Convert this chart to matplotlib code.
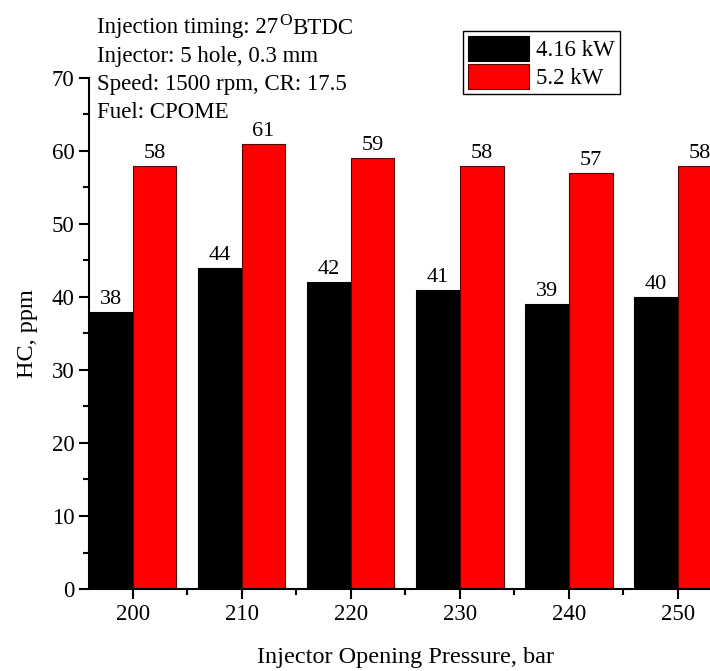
import matplotlib
matplotlib.use("Agg")
import matplotlib.pyplot as plt
import numpy as np

plt.rcParams['font.family'] = ['Liberation Serif', 'DejaVu Serif']

pressures = [200, 210, 220, 230, 240, 250]
series_names = ['4.16 kW', '5.2 kW']
hc_416 = [38, 44, 42, 41, 39, 40]
hc_52 = [58, 61, 59, 58, 57, 58]
info_first = ('Injection timing: 27', 'O', 'BTDC')
info_lines = ['Injector: 5 hole, 0.3 mm', 'Speed: 1500 rpm, CR: 17.5', 'Fuel: CPOME']

fig = plt.figure(figsize=(7.10, 6.71), dpi=100)
ax = fig.add_axes([0.1254, 0.1222, 0.891, 0.7616])

x = np.array(pressures, dtype=float)
w = 4
b1 = ax.bar(x - w/2, hc_416, width=w, color='black', edgecolor='black', linewidth=0.8, label=series_names[0])
b2 = ax.bar(x + w/2, hc_52, width=w, color='#ff0000', edgecolor='#5a0000', linewidth=0.8, label=series_names[1])

for bars, vals in ((b1, hc_416), (b2, hc_52)):
    for r, v in zip(bars, vals):
        ax.text(r.get_x() + r.get_width()/2, v + 0.4, f'{v}', ha='center', va='bottom', fontsize=16)

ax.set_xlim(196, 254)
ax.set_ylim(0, 70)
ax.set_xticks(pressures)
ax.set_xticks([p + 5 for p in pressures[:-1]], minor=True)
ax.set_yticks(range(0, 71, 10))
ax.set_yticks(range(5, 70, 10), minor=True)
ax.spines['top'].set_visible(False)
ax.spines['right'].set_visible(False)
for s in ('left', 'bottom'):
    ax.spines[s].set_linewidth(1.5)
ax.tick_params(axis='both', which='major', direction='out', length=7, width=1.5, labelsize=16.5)
ax.tick_params(axis='both', which='minor', direction='out', length=4, width=1.5)

ax.set_xlabel('Injector Opening Pressure, bar', fontsize=17.5, labelpad=16)
ax.set_ylabel('HC, ppm', fontsize=17.5, labelpad=10)

# first info line with superscript O
renderer = fig.canvas.get_renderer()
x0 = 97 / 710
y0 = 1 - 28 / 671
t1 = fig.text(x0, y0, info_first[0], fontsize=16.5, ha='left', va='center')
bb = t1.get_window_extent(renderer)
xs = (bb.x1 + 1) / fig.bbox.width
t2 = fig.text(xs, y0 + 7 / 671, info_first[1], fontsize=12.5, ha='left', va='center')
bb2 = t2.get_window_extent(renderer)
xs2 = (bb2.x1 + 1) / fig.bbox.width
fig.text(xs2, y0, info_first[2], fontsize=16.5, ha='left', va='center')

for i, line in enumerate(info_lines, start=1):
    fig.text(x0, 1 - (28 + i*28.3)/671, line, fontsize=16.5, ha='left', va='center')

leg = ax.legend(loc='upper left', bbox_to_anchor=(463/710, 1 - 31/671), bbox_transform=fig.transFigure,
                fontsize=16.5, frameon=True, fancybox=False, edgecolor='black', framealpha=1,
                handlelength=2.7, handleheight=1.3, borderpad=0.2, labelspacing=0.15, handletextpad=0.3,
                borderaxespad=0)
leg.get_frame().set_linewidth(1.0)

fig.savefig('out.png', dpi=100)
